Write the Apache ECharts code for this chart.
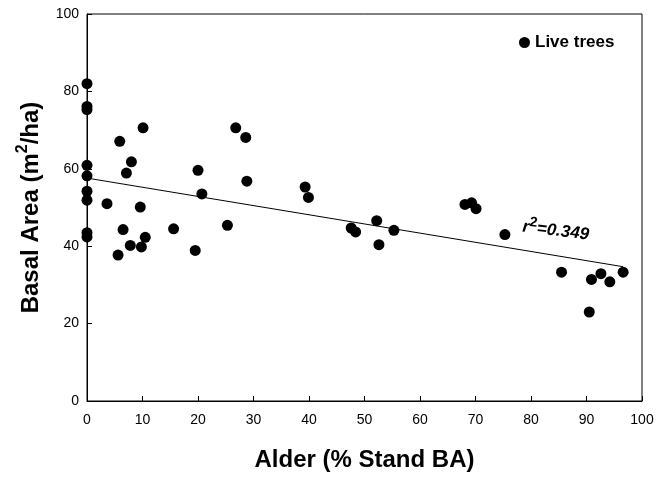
<!DOCTYPE html>
<html>
<head>
<meta charset="utf-8">
<script src="https://cdn.jsdelivr.net/npm/echarts@6/dist/echarts.min.js"></script>
<style>
  html, body { margin: 0; padding: 0; background: #fff; }
  #chart { width: 668px; height: 477px; }
</style>
</head>
<body>
<div id="chart"></div>
<script>
// alder share of stand basal area (%) and total basal area (m2/ha), one pair per plot
const alderPct = [
  0, 0, 0, 0, 0, 0, 0, 0, 0,
  3.6, 5.6, 5.9, 6.5, 7.1, 7.8, 8.0, 9.6, 9.8, 10.1, 10.5,
  15.6, 19.5, 20.0, 20.7, 25.3, 26.8, 28.6, 28.8,
  39.3, 39.9, 47.6, 48.4, 52.2, 52.6, 55.3,
  68.1, 69.3, 70.1, 75.3, 85.5, 90.5, 90.9, 92.6, 94.2, 96.6
];
const basalArea = [
  82.0, 76.1, 75.3, 60.9, 58.2, 54.2, 51.9, 43.5, 42.4,
  51.0, 37.7, 67.1, 44.3, 58.9, 40.2, 61.8, 50.1, 39.8, 70.6, 42.3,
  44.5, 38.9, 59.6, 53.5, 45.4, 70.6, 68.1, 56.8,
  55.3, 52.6, 44.7, 43.7, 46.6, 40.4, 44.1,
  50.8, 51.2, 49.7, 43.0, 33.3, 23.0, 31.4, 32.9, 30.8, 33.3
];
// regression line end points
const fitX = [0, 96.6];
const fitY = [57.6, 34.7];
const xTicks = [0, 10, 20, 30, 40, 50, 60, 70, 80, 90, 100];
const yTicks = [0, 20, 40, 60, 80, 100];
const r2Text = '0.349';

const font = "'Liberation Sans', Arial, sans-serif";

const chart = echarts.init(document.getElementById('chart'));

const points = alderPct.map((x, i) => [x, basalArea[i]]);
const fitLine = fitX.map((x, i) => [x, fitY[i]]);

chart.setOption({
  animation: false,
  backgroundColor: '#fff',
  grid: {
    left: 87, right: 26, top: 14, bottom: 75,
    show: true, borderColor: '#000', borderWidth: 1
  },
  legend: {
    left: 514, top: 29,
    data: [{ name: 'Live trees', icon: 'circle' }],
    itemWidth: 11, itemHeight: 11, itemGap: 6,
    itemStyle: { opacity: 1 },
    textStyle: { fontFamily: font, fontSize: 17, fontWeight: 'bold', color: '#000' }
  },
  xAxis: {
    type: 'value', min: xTicks[0], max: xTicks[xTicks.length - 1], interval: 10,
    name: 'Alder (% Stand BA)', nameLocation: 'middle', nameGap: 47,
    nameTextStyle: { fontFamily: font, fontSize: 24, fontWeight: 'bold', color: '#000' },
    axisLine: { lineStyle: { color: '#000', width: 1 } },
    axisTick: { inside: true, length: 5, lineStyle: { color: '#000' } },
    axisLabel: { fontFamily: font, fontSize: 14, color: '#000', margin: 12 },
    splitLine: { show: false }
  },
  yAxis: {
    type: 'value', min: yTicks[0], max: yTicks[yTicks.length - 1], interval: 20,
    name: '{t|Basal Area (m}{s|2}{t|/ha)}', nameLocation: 'middle', nameGap: 44,
    nameTextStyle: {
      fontFamily: font, fontSize: 24, fontWeight: 'bold', color: '#000',
      rich: {
        t: { fontFamily: font, fontSize: 24, fontWeight: 'bold', color: '#000', verticalAlign: 'bottom', lineHeight: 28 },
        s: { fontFamily: font, fontSize: 16, fontWeight: 'bold', color: '#000', verticalAlign: 'top', lineHeight: 28 }
      }
    },
    axisLine: { lineStyle: { color: '#000', width: 1 } },
    axisTick: { inside: true, length: 5, lineStyle: { color: '#000' } },
    axisLabel: { fontFamily: font, fontSize: 14, color: '#000', margin: 8 },
    splitLine: { show: false }
  },
  series: [
    {
      name: 'Live trees', type: 'scatter', data: points,
      symbol: 'circle', symbolSize: 11,
      itemStyle: { color: '#000', opacity: 1 }, z: 3
    },
    {
      name: 'fit', type: 'line', data: fitLine,
      symbol: 'none', lineStyle: { color: '#000', width: 1 }, z: 2
    }
  ]
});

// r^2 annotation placed in data space next to the fit line
const anchor = chart.convertToPixel({ gridIndex: 0 }, [78.3, 42.8]);
chart.setOption({
  graphic: [{
    type: 'text',
    x: anchor[0], y: anchor[1],
    rotation: -0.12,
    style: {
      text: '{r|r}{s|2}{r|=' + r2Text + '}',
      verticalAlign: 'bottom',
      rich: {
        r: { fontFamily: font, fontSize: 17, fontWeight: 'bold', fontStyle: 'italic', fill: '#000', verticalAlign: 'bottom', lineHeight: 21 },
        s: { fontFamily: font, fontSize: 14, fontWeight: 'bold', fill: '#000', verticalAlign: 'top', lineHeight: 21 }
      }
    }
  }]
});
</script>
</body>
</html>
